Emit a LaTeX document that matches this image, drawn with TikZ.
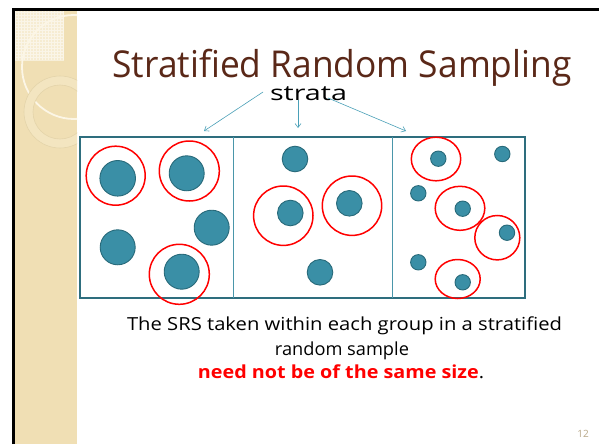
\documentclass[tikz,border=0pt]{standalone}
\usepackage{fontspec}
\setmainfont{Open Sans}
\usetikzlibrary{arrows.meta,shapes.geometric}
\newcommand{\myfit}[2]{\resizebox{#1}{\height}{#2}}
\definecolor{side}{RGB}{240,223,180}
\definecolor{sidelight}{RGB}{246,236,210}
\definecolor{ringcol}{RGB}{252,246,230}
\definecolor{ringband}{RGB}{243,229,192}
\definecolor{ringedge}{RGB}{228,212,170}
\definecolor{ballfill}{RGB}{58,143,166}
\definecolor{balledge}{RGB}{40,106,122}
\definecolor{boxcol}{RGB}{46,110,126}
\definecolor{divcol}{RGB}{74,150,170}
\definecolor{arrcol}{RGB}{74,160,184}
\definecolor{titlecol}{RGB}{90,40,24}
\definecolor{pagecol}{RGB}{184,168,136}
\tikzset{
  ball/.style={circle, fill=ballfill, draw=balledge, line width=0.9pt, minimum size=#1, inner sep=0pt},
  sel/.style={ellipse, draw=red, line width=1.5pt, inner sep=0pt},
  pointer/.style={draw=arrcol, line width=0.6pt, -{Straight Barb[length=4pt,width=6pt]}},
  txt/.style={anchor=base, inner sep=0pt}
}
\begin{document}
\begin{tikzpicture}[x=1pt,y=-1pt]
\useasboundingbox (0,0) rectangle (599,444);
\fill[white] (0,0) rectangle (599,444);
% sidebar
\fill[side] (14,10) rectangle (77,444);
\begin{scope}
  \clip (14,10) rectangle (77,444);
  \fill[sidelight] (15,11) rectangle (64,60);
  \draw[white, opacity=0.5, line width=0.3pt, step=3pt] (15,11) grid (64,60);
  \draw[ringcol, line width=1.8pt] (74,67) circle[radius=52pt];
  \draw[ringband, line width=9pt] (60,112) circle[radius=31.5pt];
  \draw[ringedge, line width=0.6pt] (60,112) circle[radius=36pt];
  \draw[ringedge, line width=0.6pt] (60,112) circle[radius=27pt];
\end{scope}
\draw[black, line width=2.6pt] (13.3,444) -- (13.3,9.7) -- (599,9.7);

% title
\node[txt, text=titlecol] (title) at (342,77) {\fontsize{37}{40}\selectfont\myfit{459pt}{Stratified Random Sampling}};
\node[txt] (strata) at (308.5,100) {\fontsize{21}{24}\selectfont\myfit{77pt}{strata}};

% box
\node[draw=boxcol, line width=1.8pt, minimum width=445pt, minimum height=161pt, inner sep=0pt] (box) at (302.5,217.5) {};
\coordinate (d1t) at (233,137); \coordinate (d1b) at (233,298);
\coordinate (d2t) at (392,137); \coordinate (d2b) at (392,298);
\draw[divcol, line width=0.9pt] (d1t) -- (d1b);
\draw[divcol, line width=0.9pt] (d2t) -- (d2b);

% arrows
\coordinate (a1s) at (263,92);  \coordinate (a1e) at (204,131);
\coordinate (a2s) at (298,100); \coordinate (a2e) at (298,128);
\coordinate (a3s) at (328,98);  \coordinate (a3e) at (406,131);
\draw[pointer] (a1s) -- (a1e);
\draw[pointer] (a2s) -- (a2e);
\draw[pointer] (a3s) -- (a3e);

% stratum 1
\node[ball=35.6pt] (b1) at (117.7,178.3) {};
\node[ball=35pt] (b2) at (186.7,173.3) {};
\node[ball=35pt] (b3) at (211.7,227.7) {};
\node[ball=35pt] (b4) at (117.7,247.3) {};
\node[ball=35pt] (b5) at (181.7,271.7) {};
\node[sel, minimum width=59pt, minimum height=59pt] (r1) at (115.7,175.7) {};
\node[sel, minimum width=60pt, minimum height=60pt] (r2) at (189.3,171) {};
\node[sel, minimum width=60pt, minimum height=60pt] (r5) at (179.3,274.3) {};

% stratum 2
\node[ball=25.6pt] (c1) at (295,159) {};
\node[ball=25.6pt] (c2) at (290.3,213) {};
\node[ball=25.6pt] (c3) at (349.3,203.3) {};
\node[ball=25.6pt] (c4) at (320,272.3) {};
\node[sel, minimum width=59.4pt, minimum height=59.4pt] (s2) at (283.3,215.7) {};
\node[sel, minimum width=59.4pt, minimum height=59.4pt] (s3) at (352,205.7) {};

% stratum 3
\node[ball=15.4pt] (e1) at (438.3,158.7) {};
\node[ball=15.4pt] (e2) at (502.3,154) {};
\node[ball=15.4pt] (e3) at (418.3,193.3) {};
\node[ball=15.4pt] (e4) at (462.7,208.7) {};
\node[ball=15.4pt] (e5) at (507,232.7) {};
\node[ball=15.4pt] (e6) at (418.3,262.3) {};
\node[ball=15.4pt] (e7) at (462.7,282.3) {};
\node[sel, minimum width=49.4pt, minimum height=43.6pt] (t1) at (436,159) {};
\node[sel, minimum width=49.6pt, minimum height=44pt] (t4) at (460,208.3) {};
\node[sel, minimum width=45pt, minimum height=44.4pt] (t5) at (497.3,237.7) {};
\node[sel, minimum width=45pt, minimum height=39pt] (t7) at (457.7,279) {};

% text
\node[txt] (l1) at (344.5,330) {\fontsize{18}{22}\selectfont\myfit{435pt}{The SRS taken within each group in a stratified}};
\node[txt] (l2) at (342,355) {\fontsize{18}{22}\selectfont\myfit{134pt}{random sample}};
\node[txt] (l3) at (341,378) {\fontsize{18}{22}\selectfont\myfit{286pt}{\textcolor{red}{\bfseries need not be of the same size}.}};
\node[txt, text=pagecol] (pg) at (583,437) {\fontsize{10}{12}\selectfont 12};
\end{tikzpicture}
\end{document}
